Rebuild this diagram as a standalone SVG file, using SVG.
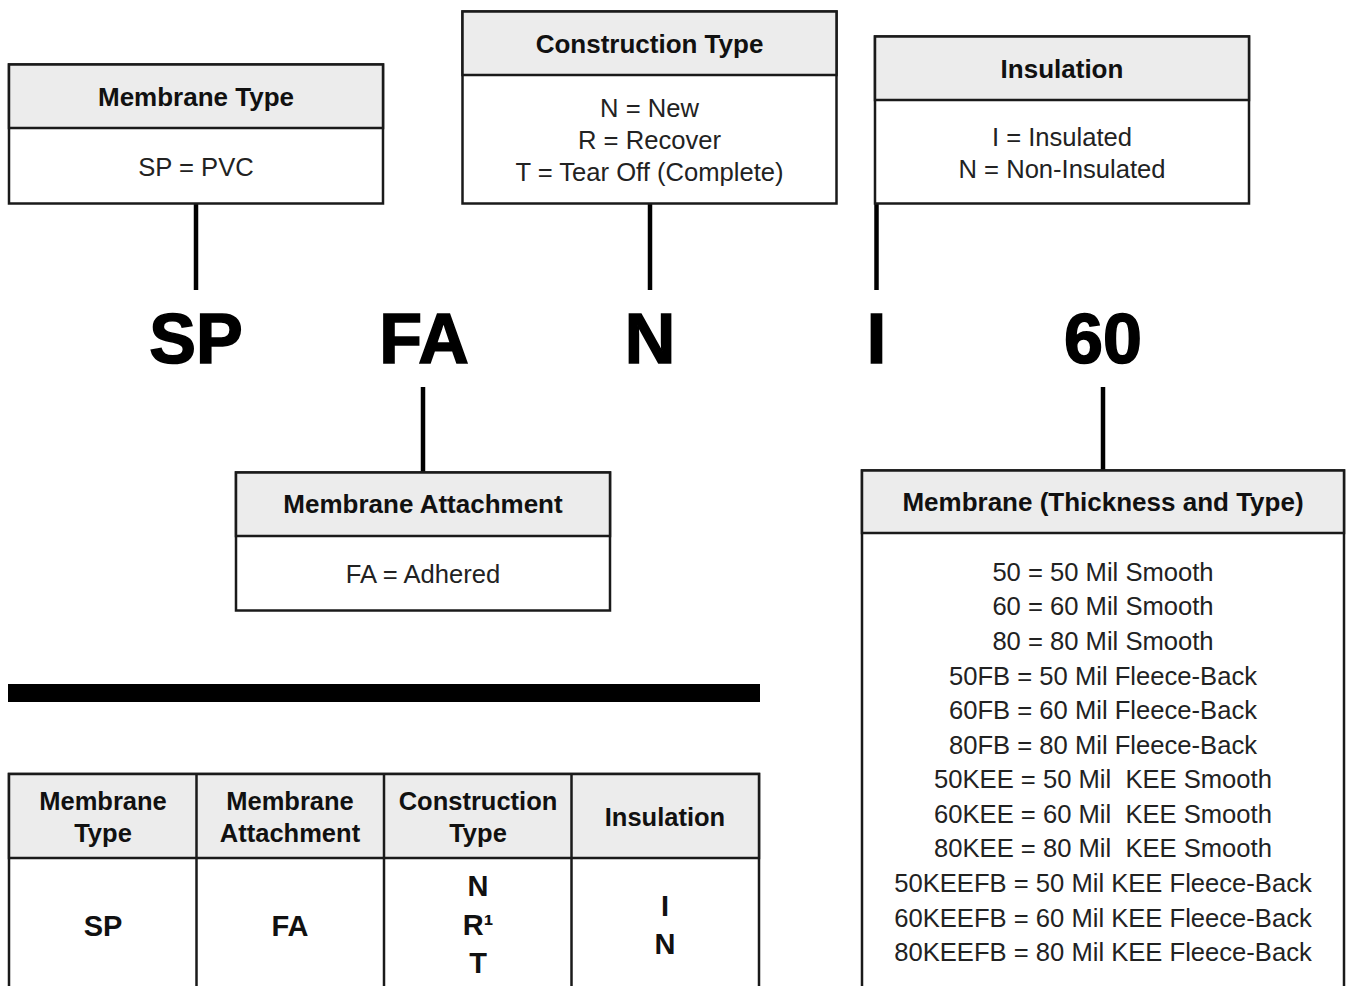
<svg xmlns="http://www.w3.org/2000/svg" width="1349" height="986" viewBox="0 0 1349 986">
<style>
.box{fill:#fff;stroke:#1a1a1a;stroke-width:2.5}
.hdr{fill:#ececec;stroke:#1a1a1a;stroke-width:2.5}
.title{font-family:"Liberation Sans",Arial,sans-serif;font-weight:bold;font-size:26px;fill:#111;text-anchor:middle}
.body{font-family:"Liberation Sans",Arial,sans-serif;font-size:25.6px;fill:#222;text-anchor:middle}
.big{font-family:"Liberation Sans",Arial,sans-serif;font-weight:bold;font-size:70px;fill:#000;stroke:#000;stroke-width:1.6;text-anchor:middle}
.conn{stroke:#000;stroke-width:4.5;fill:none}
.th{font-family:"Liberation Sans",Arial,sans-serif;font-weight:bold;font-size:25.5px;fill:#111;text-anchor:middle}
.td{font-family:"Liberation Sans",Arial,sans-serif;font-weight:bold;font-size:29px;fill:#111;text-anchor:middle}
.grid{stroke:#1a1a1a;stroke-width:2.5}
</style>
<rect width="1349" height="986" fill="#fff"/>

<g id="connectors">
<line class="conn" x1="196" y1="203" x2="196" y2="290"/>
<line class="conn" x1="650" y1="203" x2="650" y2="290"/>
<line class="conn" x1="876.5" y1="203" x2="876.5" y2="290"/>
<line class="conn" x1="423" y1="387" x2="423" y2="472"/>
<line class="conn" x1="1103" y1="387" x2="1103" y2="470"/>
</g>

<g id="node-membrane-type">
<rect class="box" x="9" y="64.5" width="374" height="139"/>
<rect class="hdr" x="9" y="64.5" width="374" height="63.5"/>
<text class="title" x="196" y="106">Membrane Type</text>
<text class="body" x="196" y="176">SP = PVC</text>
</g>

<g id="node-construction-type">
<rect class="box" x="462.5" y="11.5" width="374" height="192"/>
<rect class="hdr" x="462.5" y="11.5" width="374" height="63.5"/>
<text class="title" x="649.5" y="53">Construction Type</text>
<text class="body" x="649.5" y="117">N = New</text>
<text class="body" x="649.5" y="149">R = Recover</text>
<text class="body" x="649.5" y="181">T = Tear Off (Complete)</text>
</g>

<g id="node-insulation">
<rect class="box" x="875" y="36.5" width="374" height="167"/>
<rect class="hdr" x="875" y="36.5" width="374" height="63.5"/>
<text class="title" x="1062" y="78">Insulation</text>
<text class="body" x="1062" y="146">I = Insulated</text>
<text class="body" x="1062" y="178">N = Non-Insulated</text>
</g>

<g id="node-membrane-attachment">
<rect class="box" x="236" y="472.5" width="374" height="138"/>
<rect class="hdr" x="236" y="472.5" width="374" height="63.5"/>
<text class="title" x="423" y="513">Membrane Attachment</text>
<text class="body" x="423" y="583">FA = Adhered</text>
</g>

<g id="node-membrane-thickness">
<rect class="box" x="862" y="470.5" width="482" height="530"/>
<rect class="hdr" x="862" y="470.5" width="482" height="62.5"/>
<text class="title" x="1103" y="511">Membrane (Thickness and Type)</text>
<text class="body" x="1103" y="581">50 = 50 Mil Smooth</text>
<text class="body" x="1103" y="615">60 = 60 Mil Smooth</text>
<text class="body" x="1103" y="650">80 = 80 Mil Smooth</text>
<text class="body" x="1103" y="685">50FB = 50 Mil Fleece-Back</text>
<text class="body" x="1103" y="719">60FB = 60 Mil Fleece-Back</text>
<text class="body" x="1103" y="754">80FB = 80 Mil Fleece-Back</text>
<text class="body" x="1103" y="788" xml:space="preserve">50KEE = 50 Mil  KEE Smooth</text>
<text class="body" x="1103" y="823" xml:space="preserve">60KEE = 60 Mil  KEE Smooth</text>
<text class="body" x="1103" y="857" xml:space="preserve">80KEE = 80 Mil  KEE Smooth</text>
<text class="body" x="1103" y="892">50KEEFB = 50 Mil KEE Fleece-Back</text>
<text class="body" x="1103" y="927">60KEEFB = 60 Mil KEE Fleece-Back</text>
<text class="body" x="1103" y="961">80KEEFB = 80 Mil KEE Fleece-Back</text>
</g>

<g id="code">
<text class="big" x="196" y="363">SP</text>
<text class="big" x="424" y="363">FA</text>
<text class="big" x="650" y="363">N</text>
<text class="big" x="876.5" y="363">I</text>
<text class="big" x="1103" y="363">60</text>
</g>

<rect id="divider" x="8" y="684" width="752" height="18" fill="#000"/>

<g id="table">
<rect x="9" y="774" width="750" height="230" fill="#fff" class="grid"/>
<rect x="9" y="774" width="750" height="84" fill="#ececec" class="grid"/>
<line class="grid" x1="196.5" y1="774" x2="196.5" y2="990"/>
<line class="grid" x1="384" y1="774" x2="384" y2="990"/>
<line class="grid" x1="571.5" y1="774" x2="571.5" y2="990"/>
<text class="th" x="103" y="810">Membrane</text>
<text class="th" x="103" y="842">Type</text>
<text class="th" x="290" y="810">Membrane</text>
<text class="th" x="290" y="842">Attachment</text>
<text class="th" x="478" y="810">Construction</text>
<text class="th" x="478" y="842">Type</text>
<text class="th" x="665" y="826">Insulation</text>
<text class="td" x="103" y="936">SP</text>
<text class="td" x="290" y="936">FA</text>
<text class="td" x="478" y="896">N</text>
<text class="td" x="478" y="935">R¹</text>
<text class="td" x="478" y="973">T</text>
<text class="td" x="665" y="916">I</text>
<text class="td" x="665" y="954">N</text>
</g>
</svg>
